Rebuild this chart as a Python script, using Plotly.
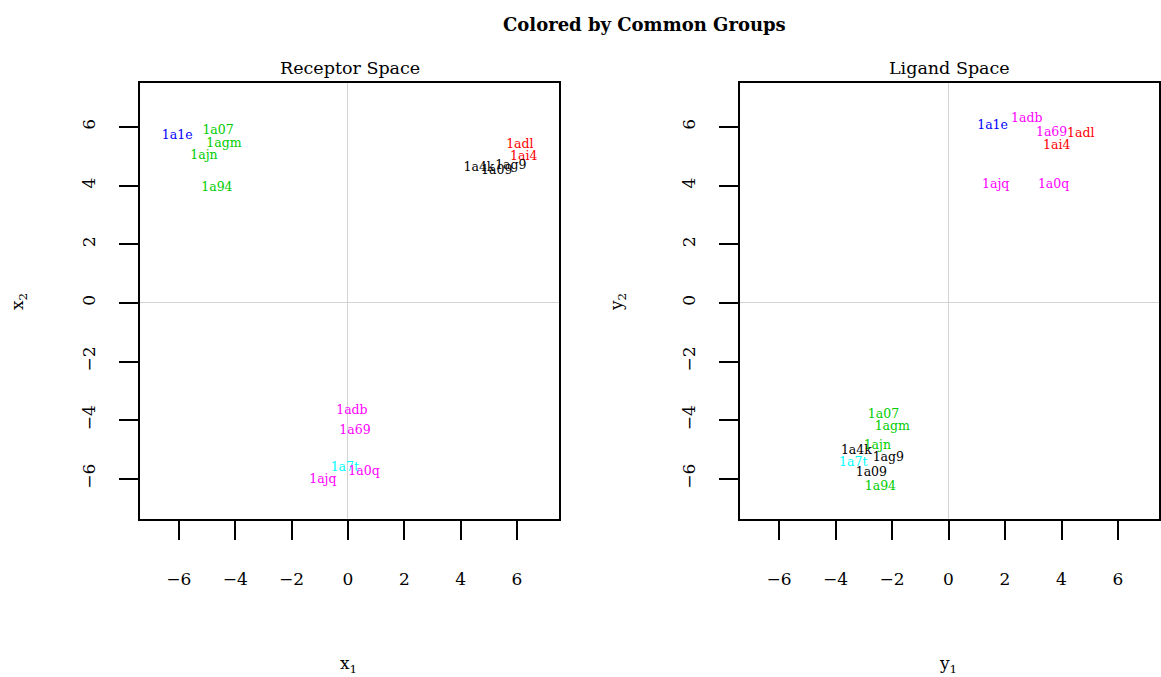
import plotly.graph_objects as go

labels = ["1a1e", "1a07", "1agm", "1ajn", "1a94", "1adl", "1ai4", "1a4k", "1ag9", "1a09",
          "1a7t", "1adb", "1a69", "1a0q", "1ajq"]
groups = ["blue", "green", "green", "green", "green", "red", "red", "black", "black", "black",
          "cyan", "magenta", "magenta", "magenta", "magenta"]

# Receptor space coordinates
x1 = [-6.06, -4.61, -4.40, -5.11, -4.65, 6.10, 6.24, 4.65, 5.78, 5.28,
      -0.11, 0.14, 0.25, 0.57, -0.89]
x2 = [5.69, 5.86, 5.42, 5.01, 3.92, 5.39, 4.98, 4.60, 4.67, 4.50,
      -5.63, -3.68, -4.36, -5.76, -6.03]

# Ligand space coordinates
y1 = [1.56, -2.30, -1.99, -2.52, -2.41, 4.68, 3.83, -3.26, -2.13, -2.73,
      -3.37, 2.77, 3.65, 3.72, 1.67]
y2 = [6.03, -3.82, -4.23, -4.88, -6.27, 5.76, 5.35, -5.05, -5.28, -5.80,
      -5.46, 6.27, 5.80, 4.02, 4.02]

ticks = [-6, -4, -2, 0, 2, 4, 6]
tick_text = ["\u22126", "\u22124", "\u22122", "0", "2", "4", "6"]

color_map = {"blue": "#0000FF", "green": "#00CD00", "red": "#FF0000", "black": "#000000",
             "cyan": "#00FFFF", "magenta": "#FF00FF"}
colors = [color_map[g] for g in groups]

FONT = "DejaVu Serif"

fig = go.Figure()
fig.add_trace(go.Scatter(x=x1, y=x2, text=labels, mode="text", xaxis="x", yaxis="y",
                         textfont=dict(color=colors, size=12.5, family=FONT),
                         textposition="middle center", showlegend=False, hoverinfo="skip"))
fig.add_trace(go.Scatter(x=y1, y=y2, text=labels, mode="text", xaxis="x2", yaxis="y2",
                         textfont=dict(color=colors, size=12.5, family=FONT),
                         textposition="middle center", showlegend=False, hoverinfo="skip"))

W, H = 1161, 677
yd = [1 - 519 / H, 1 - 83 / H]

axis_common = dict(
    tickmode="array", tickvals=ticks, ticktext=tick_text,
    ticks="outside", ticklen=19, tickwidth=1.5, tickcolor="black",
    showline=True, linecolor="black", linewidth=1.5, mirror=True,
    showgrid=False, zeroline=True, zerolinecolor="#D3D3D3", zerolinewidth=1,
    tickfont=dict(family=FONT, size=17, color="black"),
)

fig.update_layout(
    width=W, height=H,
    margin=dict(l=0, r=0, t=0, b=0),
    paper_bgcolor="white", plot_bgcolor="white",
    font=dict(family=FONT, color="black"),
    xaxis=dict(domain=[140 / W, 559 / W], range=[-7.38, 7.49], anchor="y",
               ticklabelstandoff=25, **axis_common),
    yaxis=dict(domain=yd, range=[-7.37, 7.5], anchor="x", tickangle=-90,
               ticklabelstandoff=17, **axis_common),
    xaxis2=dict(domain=[740 / W, 1159 / W], range=[-7.38, 7.45], anchor="y2",
                ticklabelstandoff=25, **axis_common),
    yaxis2=dict(domain=yd, range=[-7.37, 7.5], anchor="x2", tickangle=-90,
                ticklabelstandoff=17, **axis_common),
)

ann = [
    dict(text="<b>Colored by Common Groups</b>", x=644 / W, y=1 - 24 / H, size=18),
    dict(text="Receptor Space", x=349.5 / W, y=1 - 68 / H, size=17.5),
    dict(text="Ligand Space", x=949.5 / W, y=1 - 68 / H, size=17.5),
    dict(text="x<sub>1</sub>", x=348 / W, y=1 - 664 / H, size=17),
    dict(text="y<sub>1</sub>", x=948 / W, y=1 - 664 / H, size=17),
]
for a in ann:
    fig.add_annotation(text=a["text"], x=a["x"], y=a["y"], xref="paper", yref="paper",
                       showarrow=False, xanchor="center", yanchor="middle",
                       font=dict(family=FONT, size=a["size"], color="black"))
for t, xp in [("x<sub>2</sub>", 18), ("y<sub>2</sub>", 617)]:
    fig.add_annotation(text=t, x=xp / W, y=1 - 302 / H, xref="paper", yref="paper",
                       showarrow=False, xanchor="center", yanchor="middle", textangle=-90,
                       font=dict(family=FONT, size=17, color="black"))

fig.write_html("out.html")
